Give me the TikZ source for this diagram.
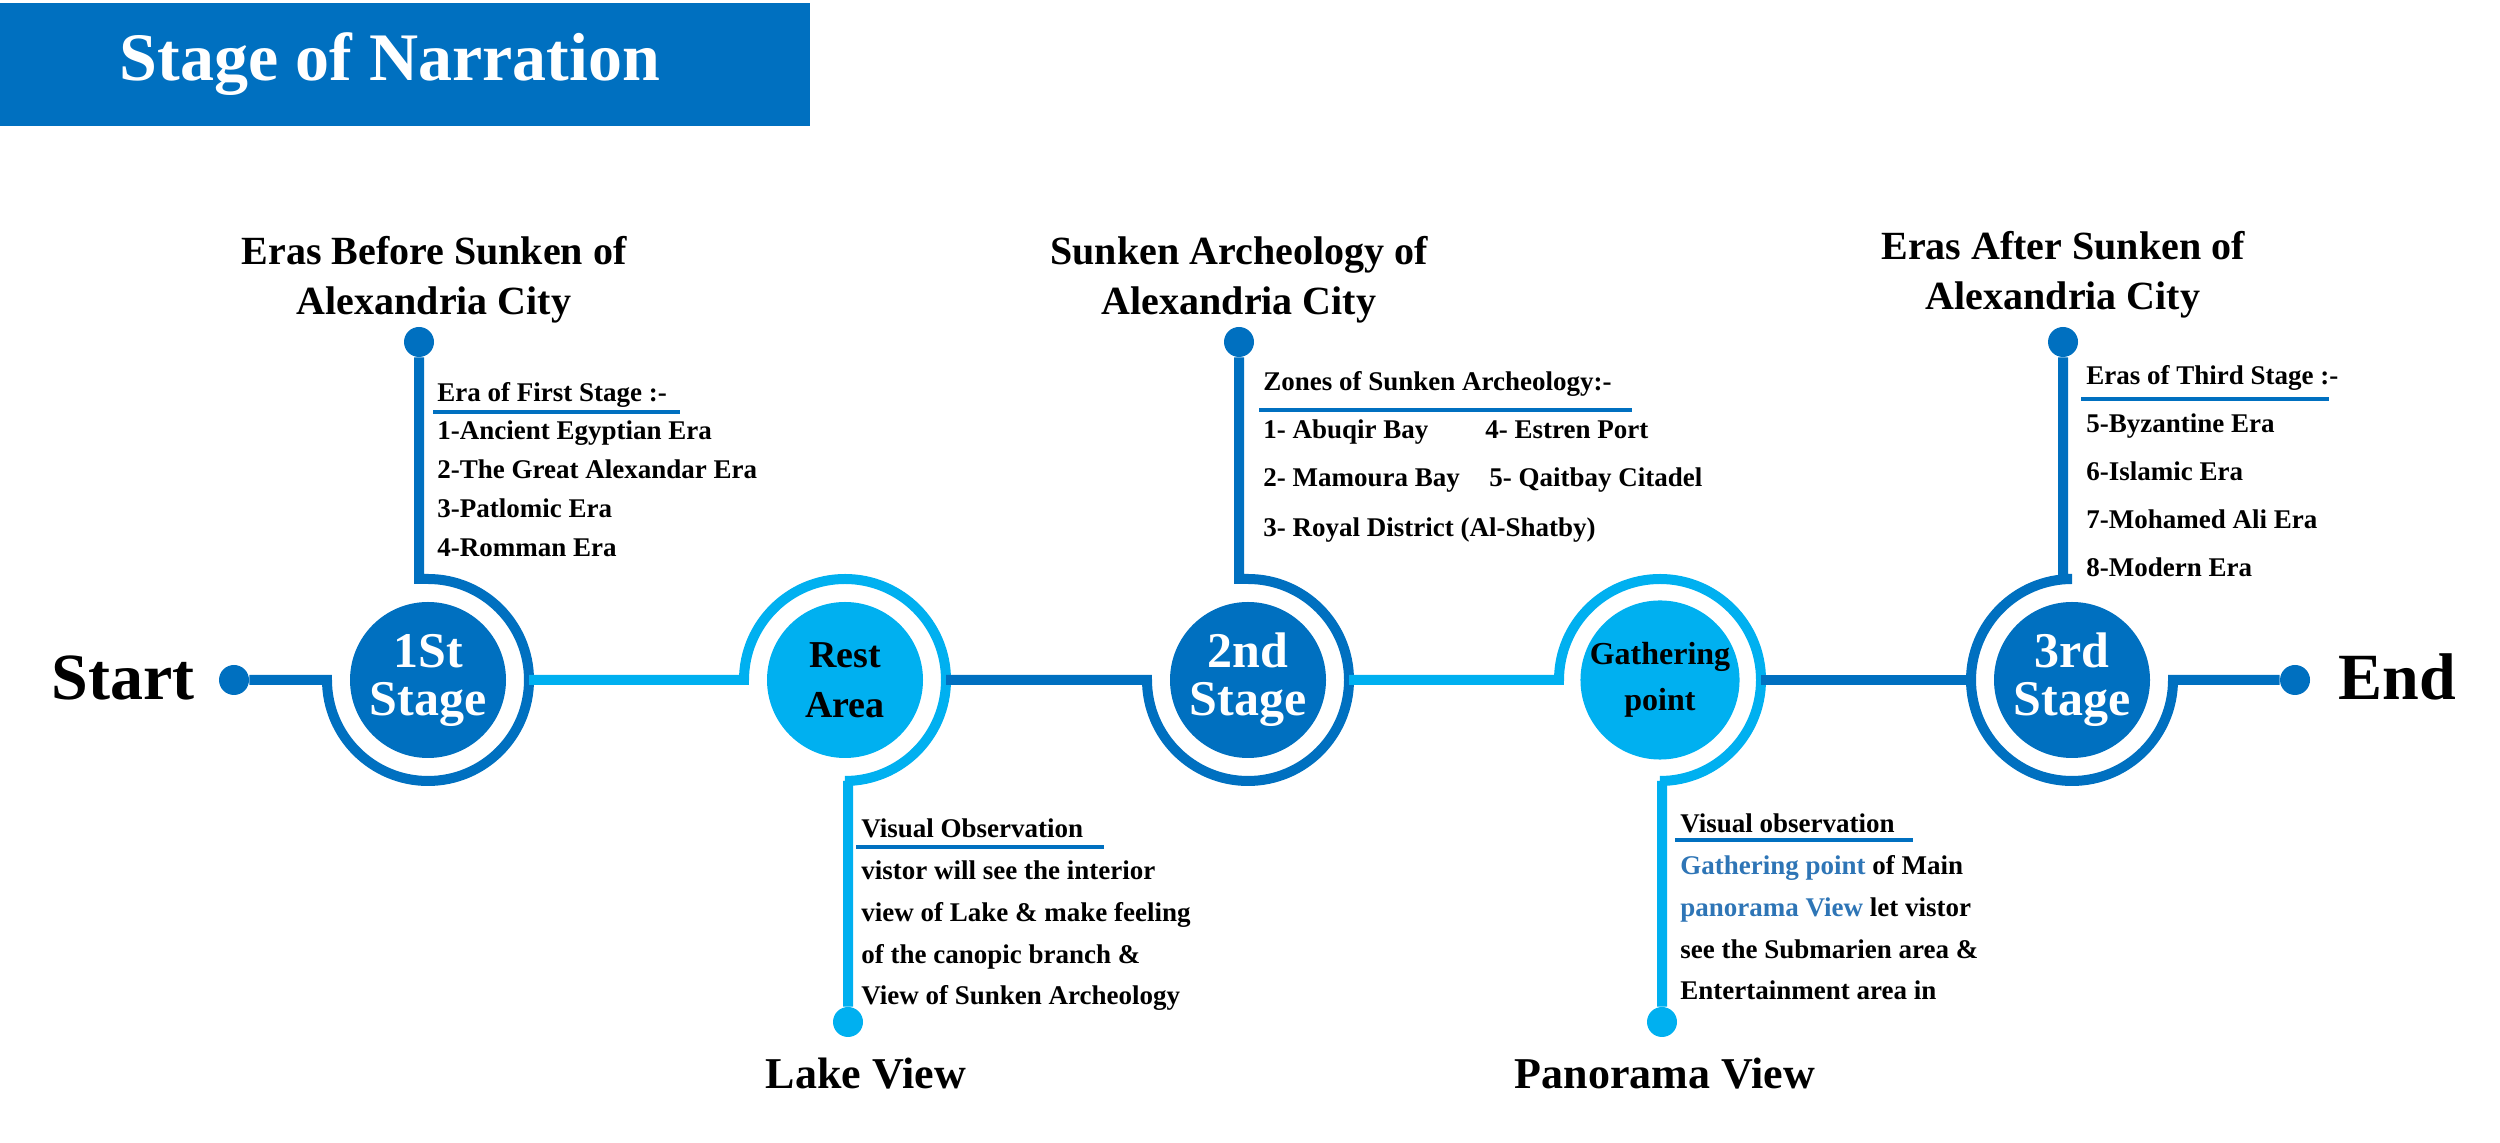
\documentclass[tikz,border=0pt]{standalone}
\usepackage{fontspec}
\setmainfont{Liberation Serif}
\usepackage{xcolor}
\usepackage{tikz}
\usetikzlibrary{positioning,calc}
\definecolor{stageblue}{HTML}{0070C0}
\definecolor{restblue}{HTML}{00B0F0}
\definecolor{txtblue}{HTML}{2E75B6}

\begin{document}
\begin{tikzpicture}[x=0.5pt,y=0.5pt,font=\bfseries,
  stagecirc/.style={circle,fill=stageblue,minimum size=78pt,inner sep=0pt,align=center,text=white,font=\bfseries\fontsize{25}{24}\selectfont},
  restcirc/.style={circle,fill=restblue,minimum size=78pt,inner sep=0pt,align=center},
  endpt/.style={circle,minimum size=15pt,inner sep=0pt},
  wire/.style={line width=5pt},
  capt/.style={align=center,inner sep=0pt,font=\bfseries\fontsize{20}{25}\selectfont},
  itm/.style={anchor=base west,inner sep=0pt,font=\bfseries\fontsize{13.5}{16}\selectfont},
  uline/.style={line width=2.2pt,stageblue},
  bigtxt/.style={anchor=base,inner sep=0pt,font=\bfseries\fontsize{33}{33}\selectfont},
  viewtxt/.style={anchor=base,inner sep=0pt,font=\bfseries\fontsize{22}{22}\selectfont}]
  \useasboundingbox (0,-463) rectangle (2500,680);

  \fill[stageblue] (0,554) rectangle (810,677);
  \node[text=white,font=\bfseries\fontsize{34}{34}\selectfont] (title) at (390,615.5) {Stage of Narration};

  \node[bigtxt] (start) at (123,-20) {Start};
  \node[bigtxt] (end) at (2397,-20) {End};

  \node[stagecirc] (s1) at (428,0) {1St\\Stage};
  \node[restcirc,font=\bfseries\fontsize{19}{25}\selectfont] (rest) at (845,0) {Rest\\Area};
  \node[stagecirc] (s2) at (1248,0) {2nd\\Stage};
  \node[restcirc,font=\bfseries\fontsize{16}{23}\selectfont] (gath) at (1660,0) {Gathering\\point};
  \node[stagecirc] (s3) at (2072,0) {3rd\\Stage};

  \node[endpt,fill=stageblue] (sdot) at (234,0) {};
  \node[endpt,fill=stageblue] (edot) at (2295,0) {};
  \node[endpt,fill=stageblue] (t1) at (419,338) {};
  \node[endpt,fill=stageblue] (t2) at (1239,338) {};
  \node[endpt,fill=stageblue] (t3) at (2063,338) {};
  \node[endpt,fill=restblue] (b1) at (848,-342) {};
  \node[endpt,fill=restblue] (b2) at (1662,-342) {};

  \draw[wire,stageblue] (sdot) -- ($(s1)+(-101,0)$) arc[start angle=180,end angle=450,radius=50.5pt] -- ++(-9,0) -- (t1);
  \draw[wire,restblue] ($(s1)+(101,0)$) -- ($(rest)+(-101,0)$) arc[start angle=180,end angle=-90,radius=50.5pt] -- ++(3,0) -- (b1);
  \draw[wire,stageblue] ($(rest)+(101,0)$) -- ($(s2)+(-101,0)$) arc[start angle=180,end angle=450,radius=50.5pt] -- ++(-9,0) -- (t2);
  \draw[wire,restblue] ($(s2)+(101,0)$) -- ($(gath)+(-101,0)$) arc[start angle=180,end angle=-90,radius=50.5pt] -- ++(2,0) -- (b2);
  \draw[wire,stageblue] ($(gath)+(101,0)$) -- ($(s3)+(-101,0)$);
  \draw[wire,stageblue] (t3) -- ($(s3)+(-9,101)$) -- ($(s3)+(0,101)$) arc[start angle=90,end angle=360,radius=50.5pt] -- (edot);

  \node[capt,above=1.5pt of t1,xshift=7.5pt] (c1) {Eras Before Sunken of\\Alexandria City};
  \node[capt,above=1.5pt of t2] (c2) {Sunken Archeology of\\Alexandria City};
  \node[capt,above=4pt of t3] (c3) {Eras After Sunken of\\Alexandria City};

  \node[itm] (h1) at (437,278) {Era of First Stage :-};
  \draw[uline] ($(h1.base west)+(-4,-10)$) -- ++(247,0);
  \foreach \t [count=\i] in {1-Ancient Egyptian Era,2-The Great Alexandar Era,3-Patlomic Era,4-Romman Era}
    \node[itm] (e1\i) at (437,279-39*\i) {\t};

  \node[itm] (h2) at (1263,289) {Zones of Sunken Archeology:-};
  \draw[uline] ($(h2.base west)+(-4,-19)$) -- ++(373,0);
  \node[itm] (z1) at (1263,241) {1- Abuqir Bay};
  \node[itm] (z4) at (1485,241) {4- Estren Port};
  \node[itm] (z2) at (1263,193) {2- Mamoura Bay};
  \node[itm] (z5) at (1489,193) {5- Qaitbay Citadel};
  \node[itm] (z3) at (1263,143) {3- Royal District (Al-Shatby)};

  \node[itm] (h3) at (2086,295) {Eras of Third Stage :-};
  \draw[uline] ($(h3.base west)+(-5,-14)$) -- ++(248,0);
  \foreach \t [count=\i] in {5-Byzantine Era,6-Islamic Era,7-Mohamed Ali Era,8-Modern Era}
    \node[itm] (e3\i) at (2086,295-48*\i) {\t};

  \node[itm] (h4) at (861,-158) {Visual Observation};
  \draw[uline] ($(h4.base west)+(-5,-9)$) -- ++(248,0);
  \foreach \t [count=\i] in {vistor will see the interior,view of Lake \& make feeling,of the canopic branch \&,View of Sunken Archeology}
    \node[itm] (v1\i) at (861,-158-41.7*\i) {\t};

  \node[itm] (h5) at (1680,-153) {Visual observation};
  \draw[uline] ($(h5.base west)+(-5,-7)$) -- ++(238,0);
  \foreach \t [count=\i] in {{{\color{txtblue}Gathering point} of Main},{{\color{txtblue}panorama View} let vistor},see the Submarien area \&,Entertainment area in}
    \node[itm] (v2\i) at (1680,-153-41.7*\i) {\t};

  \node[viewtxt] (lake) at (866,-409) {Lake View};
  \node[viewtxt] (pano) at (1665,-409) {Panorama View};
\end{tikzpicture}
\end{document}
